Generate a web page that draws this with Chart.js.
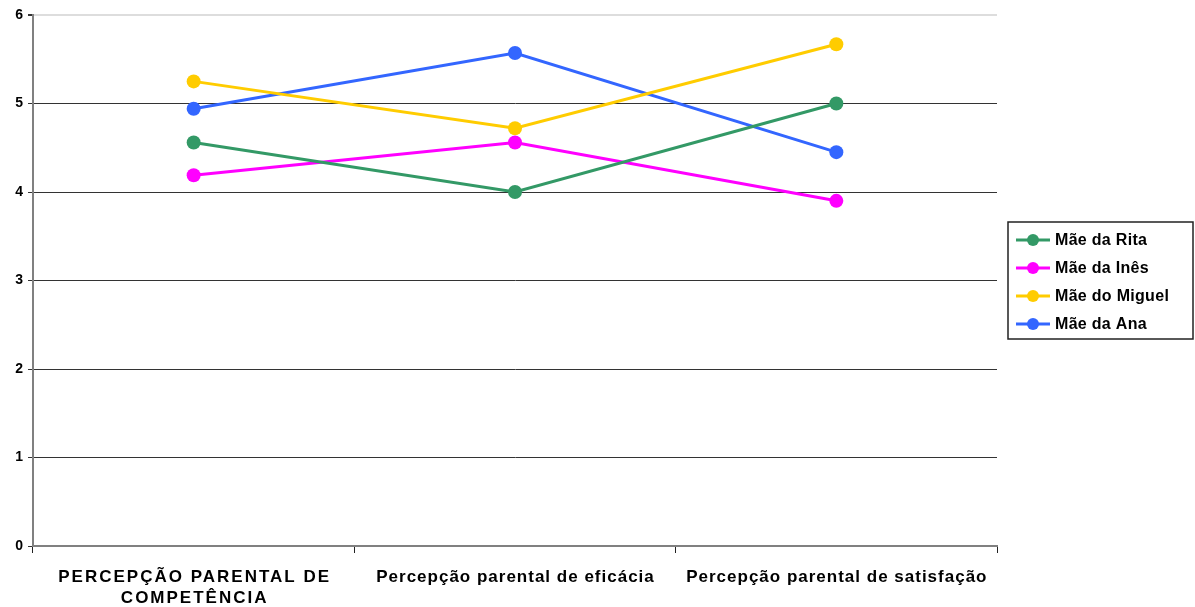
<!DOCTYPE html>
<html>
<head>
<meta charset="utf-8">
<script src="https://cdn.jsdelivr.net/npm/chart.js@4"></script>
<style>
  html, body { margin: 0; padding: 0; background: #fff; }
  #wrap { width: 1195px; height: 607px; position: relative; }
</style>
</head>
<body>
<div id="wrap"><canvas id="chart"></canvas></div>
<script>
// Data
const categories = [
    ['PERCEPÇÃO PARENTAL DE', 'COMPETÊNCIA'],
    'Percepção parental de eficácia',
    'Percepção parental de satisfação'
];
const seriesNames = ['Mãe da Rita', 'Mãe da Inês', 'Mãe do Miguel', 'Mãe da Ana'];
const seriesColors = ['#339966', '#ff00ff', '#ffcc00', '#3366ff'];
const maeRita = [4.56, 4.0, 5.0];
const maeInes = [4.19, 4.56, 3.9];
const maeMiguel = [5.25, 4.72, 5.67];
const maeAna = [4.94, 5.57, 4.45];
const yTicks = [0, 1, 2, 3, 4, 5, 6];

const seriesValues = [maeRita, maeInes, maeMiguel, maeAna];
const FONT = '"Liberation Sans", Arial, sans-serif';

// x labels drawn from the scale so each one can get its own letter spacing
const spacedLabels = {
    id: 'spacedLabels',
    afterDraw(chart) {
        const ctx = chart.ctx;
        const scale = chart.scales.x;
        ctx.save();
        ctx.font = 'bold 17px ' + FONT;
        ctx.fillStyle = '#000';
        ctx.textAlign = 'left';
        ctx.textBaseline = 'middle';
        chart.data.labels.forEach((label, i) => {
            const lines = Array.isArray(label) ? label : [label];
            const spacing = Array.isArray(label) ? 2 : 1;
            ctx.letterSpacing = spacing + 'px';
            const cx = scale.getPixelForTick(i);
            lines.forEach((line, j) => {
                const w = ctx.measureText(line).width - spacing;
                ctx.fillText(line, cx - w / 2, scale.top + 31 + j * 21);
            });
        });
        ctx.restore();
    }
};

// Legend drawn by hand so the box sits where the original has it
const boxedLegend = {
    id: 'boxedLegend',
    afterDraw(chart) {
        const ctx = chart.ctx;
        const x = 1008, y = 222, w = 185, h = 117;
        ctx.save();
        ctx.strokeStyle = '#222';
        ctx.lineWidth = 1.5;
        ctx.strokeRect(x, y, w, h);
        ctx.font = 'bold 16px ' + FONT;
        ctx.letterSpacing = '0.3px';
        ctx.textBaseline = 'middle';
        chart.data.datasets.forEach((ds, i) => {
            const cy = y + 18 + i * 28;
            ctx.strokeStyle = ds.borderColor;
            ctx.lineWidth = 3;
            ctx.beginPath();
            ctx.moveTo(x + 8, cy);
            ctx.lineTo(x + 42, cy);
            ctx.stroke();
            ctx.fillStyle = ds.borderColor;
            ctx.beginPath();
            ctx.arc(x + 25, cy, 6, 0, Math.PI * 2);
            ctx.fill();
            ctx.fillStyle = '#000';
            ctx.fillText(ds.label, x + 47, cy + 1);
        });
        ctx.restore();
    }
};

new Chart(document.getElementById('chart'), {
    type: 'line',
    data: {
        labels: categories,
        datasets: seriesNames.map((name, i) => ({
            label: name,
            data: seriesValues[i],
            borderColor: seriesColors[i],
            backgroundColor: seriesColors[i],
            borderWidth: 3,
            pointRadius: 7,
            pointHoverRadius: 7,
            pointBorderWidth: 0,
            tension: 0
        }))
    },
    options: {
        responsive: true,
        maintainAspectRatio: false,
        animation: false,
        layout: {
            padding: { top: 15, right: 198, left: 0, bottom: 0 }
        },
        plugins: {
            legend: { display: false },
            tooltip: { enabled: false }
        },
        scales: {
            x: {
                offset: true,
                grid: {
                    offset: true,
                    drawOnChartArea: false,
                    drawTicks: true,
                    tickLength: 7,
                    color: '#222'
                },
                border: { color: '#808080', width: 2 },
                ticks: { display: false },
                afterFit(scale) { scale.height = 61; }
            },
            y: {
                min: 0,
                max: 6,
                afterBuildTicks(scale) {
                    scale.ticks = yTicks.map(v => ({ value: v }));
                },
                grid: {
                    color: ctx => ctx.tick && ctx.tick.value === 6 ? '#dddddd' : '#333',
                    lineWidth: ctx => ctx.tick && ctx.tick.value === 6 ? 2 : 1,
                    tickLength: 5,
                    tickColor: '#333'
                },
                border: { color: '#808080', width: 2 },
                ticks: {
                    color: '#000',
                    padding: 5,
                    font: { family: FONT, size: 14, weight: 'bold' }
                },
                afterFit(scale) { scale.width = 33; }
            }
        }
    },
    plugins: [spacedLabels, boxedLegend]
});
</script>
</body>
</html>
